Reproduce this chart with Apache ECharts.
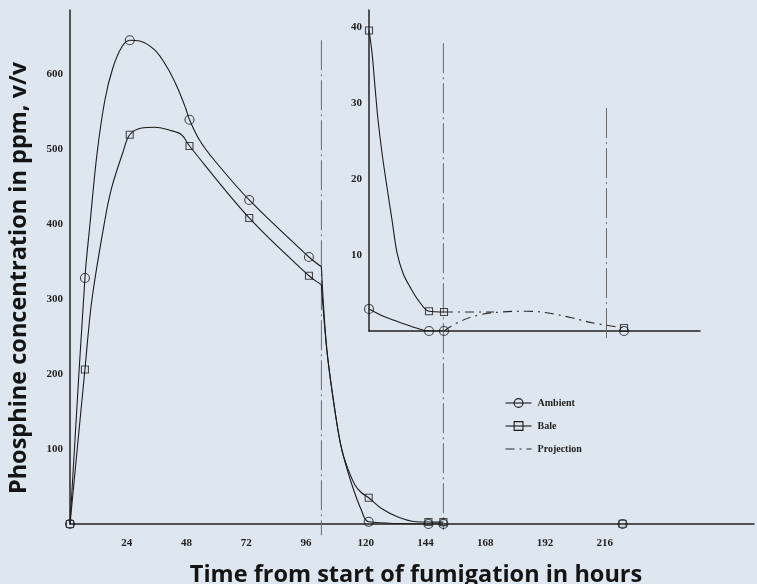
<!DOCTYPE html>
<html>
<head>
<meta charset="utf-8">
<script src="https://cdn.jsdelivr.net/npm/echarts@6/dist/echarts.min.js"></script>
<style>
  html, body { margin: 0; padding: 0; background: #dee6f0; }
  #chart { width: 757px; height: 584px; }
</style>
</head>
<body>
<div id="chart"></div>
<script>
// tick labels
var xTickLabels = [24, 48, 72, 96, 120, 144, 168, 192, 216];
var yTickLabels = [100, 200, 300, 400, 500, 600];
var insetTickLabels = [10, 20, 30, 40];

// marked readings, main panel [hours, ppm]
var ambientMain = [[0, 0], [6, 328], [24, 645], [48, 539], [72, 432], [96, 356], [120, 2.9], [144, 0], [150, 0], [222, 0]];
var baleMain = [[0, 0], [6, 206], [24, 519], [48, 504], [72, 408], [96, 331], [120, 35], [144, 2.6], [150, 2.5], [222, 0.4]];

// drawn curves, main panel
var ambientRise = [[0, 0], [6, 328], [8, 399], [10.8, 492], [14, 565], [17.2, 608], [20.8, 636], [24, 645],
  [28, 644], [34, 632], [39, 609], [43, 583], [46.4, 555], [48, 539], [52, 512], [58, 485], [72, 432], [96, 356], [101, 343]];
var ambientDrop = [[101, 343], [103.2, 232], [106.8, 143], [109.2, 99], [113, 55], [117, 19], [120, 2.9], [144, 0], [150, 0]];
var baleRise = [[0, 0], [6, 206], [8.8, 299], [14, 405], [16.8, 449], [21.2, 495], [24, 519], [28.8, 528], [34, 529],
  [40, 525], [44.8, 519], [48, 504], [72, 408], [96, 331], [101, 319]];
var baleDrop = [[101, 319], [103.2, 232], [106.8, 143], [109.2, 99], [111.5, 75], [114.5, 52], [117, 42], [120, 35],
  [125, 21], [132, 9], [139, 3], [144, 2.6], [150, 2.5]];

// inset panel [hours, ppm]
var ambientInset = [[120, 2.9], [144, 0], [150, 0], [222, 0]];
var baleInset = [[120, 39.5], [144, 2.6], [150, 2.5], [222, 0.4]];
var ambientInsetCurve = [[120, 2.9], [126, 1.9], [130, 1.4], [137, 0.6], [144, 0], [150, 0]];
var baleInsetCurve = [[120, 39.5], [121.2, 36.6], [122.4, 32.1], [123.6, 27.8], [125.2, 23.4], [127.2, 18.9], [129.2, 14.6],
  [131.2, 10.3], [133.6, 7.6], [136.4, 5.8], [139.6, 4.1], [144, 2.6], [150, 2.5]];
var projectionBale = [[150, 2.5], [160, 2.5], [170, 2.5]];
var projectionAmbient = [[150, 0], [156, 1.2], [164, 2.1], [173, 2.5], [183, 2.6], [191, 2.4], [201, 1.75], [209, 1.1], [222, 0.4]];

// dash-dot guide lines
var guide101 = [[101, 645], [101, -15]];
var guide150 = [[150, 641], [150, -8]];
var guide215 = [[215, 29.3], [215, -1.4]];

var ink = '#1c1c1c';
var hollow = { color: 'rgba(0,0,0,0)', borderColor: ink, borderWidth: 1.1 };
var serif = 'Liberation Serif';

function curve(name, data, ax, symbol) {
    return {
        type: 'line', name: name, data: data, xAxisIndex: ax, yAxisIndex: ax,
        smooth: 0.35, symbol: symbol, showSymbol: false, silent: true,
        lineStyle: { color: ink, width: 1.1 }, itemStyle: hollow, z: 3
    };
}
function marks(name, data, ax, symbol, size) {
    return {
        type: 'scatter', name: name, data: data, xAxisIndex: ax, yAxisIndex: ax,
        symbol: symbol, symbolSize: size, silent: true, itemStyle: hollow, z: 4
    };
}
function guide(data, ax) {
    return {
        type: 'line', name: 'guide', data: data, xAxisIndex: ax, yAxisIndex: ax,
        symbol: 'none', clip: false, silent: true,
        lineStyle: { color: '#6a6a6a', width: 1, type: [30, 4, 2, 4] }, z: 1
    };
}
function projection(data) {
    return {
        type: 'line', name: 'Projection', data: data, xAxisIndex: 1, yAxisIndex: 1,
        smooth: 0.4, symbol: 'none', silent: true,
        itemStyle: { color: 'rgba(0,0,0,0)', borderWidth: 0 },
        lineStyle: { color: '#2a2a2a', width: 1.1, type: [9, 5, 2, 5] }, z: 3
    };
}
function pick(list) {
    return function (v) { return list.indexOf(v) >= 0 ? String(v) : ''; };
}

var tickFont = { fontFamily: serif, fontWeight: 'bold', fontSize: 11, color: '#222' };
var axisLine = { show: true, onZero: false, lineStyle: { color: '#222', width: 1.5 } };

var option = {
    backgroundColor: '#dee6f0',
    animation: false,
    grid: [
        { left: 70, top: 10, width: 687, height: 514 },
        { left: 369, top: 10, width: 331, height: 321 }
    ],
    xAxis: [
        { type: 'value', gridIndex: 0, min: 0, max: 274.8, interval: 24,
          axisLine: axisLine, axisTick: { show: false }, splitLine: { show: false },
          axisLabel: Object.assign({ margin: 14, padding: [0, 6, 0, 0], formatter: pick(xTickLabels) }, tickFont) },
        { type: 'value', gridIndex: 1, min: 120, max: 252.4, interval: 24,
          axisLine: axisLine, axisTick: { show: false }, splitLine: { show: false },
          axisLabel: { show: false } }
    ],
    yAxis: [
        { type: 'value', gridIndex: 0, min: 0, max: 685.3, interval: 100,
          axisLine: axisLine, axisTick: { show: false }, splitLine: { show: false },
          axisLabel: Object.assign({ margin: 7, padding: [0, 0, 8, 0], formatter: pick(yTickLabels) }, tickFont) },
        { type: 'value', gridIndex: 1, min: 0, max: 42.2, interval: 10,
          axisLine: axisLine, axisTick: { show: false }, splitLine: { show: false },
          axisLabel: Object.assign({ margin: 7, padding: [0, 0, 8, 0], formatter: pick(insetTickLabels) }, tickFont) }
    ],
    legend: {
        orient: 'vertical', left: 505, top: 398, padding: 0, itemWidth: 26, itemHeight: 11, itemGap: 13,
        selectedMode: false,
        lineStyle: { width: 1.1 },
        itemStyle: { borderWidth: 1.1 },
        textStyle: { fontFamily: serif, fontWeight: 'bold', fontSize: 10, color: '#222', padding: [0, 0, 0, 1] },
        data: ['Ambient', 'Bale', 'Projection']
    },
    graphic: [
        { type: 'text', x: 19, y: 278, rotation: Math.PI / 2,
          style: { text: 'Phosphine concentration in ppm, v/v', font: 'bold 23.5px "Open Sans"', fill: '#141414',
                   textAlign: 'center', textVerticalAlign: 'middle' } },
        { type: 'text', x: 416, y: 575,
          style: { text: 'Time from start of fumigation in hours', font: 'bold 23.5px "Open Sans"', fill: '#141414',
                   textAlign: 'center', textVerticalAlign: 'middle' } }
    ],
    series: [
        curve('Ambient', ambientRise, 0, 'circle'),
        curve('Ambient', ambientDrop, 0, 'circle'),
        curve('Bale', baleRise, 0, 'rect'),
        curve('Bale', baleDrop, 0, 'rect'),
        marks('Ambient', ambientMain, 0, 'circle', 9),
        marks('Bale', baleMain, 0, 'rect', 7),
        guide(guide101, 0),
        guide(guide150, 0),
        curve('Ambient', ambientInsetCurve, 1, 'circle'),
        curve('Bale', baleInsetCurve, 1, 'rect'),
        marks('Ambient', ambientInset, 1, 'circle', 9),
        marks('Bale', baleInset, 1, 'rect', 7),
        projection(projectionBale),
        projection(projectionAmbient),
        guide(guide215, 1)
    ]
};

var myChart = echarts.init(document.getElementById('chart'));
myChart.setOption(option);
</script>
</body>
</html>
